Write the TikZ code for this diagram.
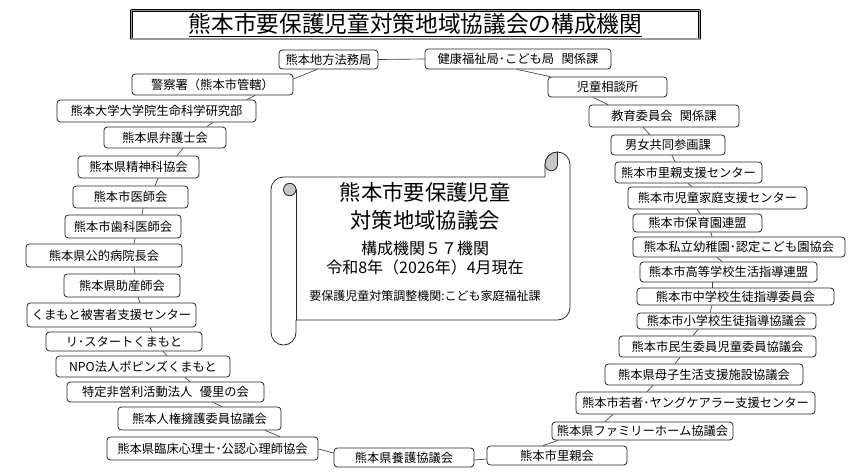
\documentclass[tikz,border=0pt]{standalone}
\usepackage{fontspec}
\setmainfont{Noto Sans CJK JP}
\newcommand\orgfont{\fontsize{9.2pt}{11pt}\selectfont}

\begin{document}
\begin{tikzpicture}[x=0.75pt, y=-0.75pt, line cap=round, line join=round]
\tikzset{
  org/.style={draw=black!85, line width=0.6pt, rounded corners=2.5pt, fill=white, inner sep=0pt, minimum height=21*0.75pt, font=\orgfont},
  boxw/.style={minimum width=#1*0.75pt},
  boxh/.style={minimum height=#1*0.75pt},
  link/.style={draw=black!75, line width=0.5pt},
  curl/.style={fill=black!22, draw=black!85, line width=0.6pt}
}
\useasboundingbox (0,0) rectangle (848,472);

\node[draw=black, double=black!40, double distance=1.1pt, line width=0.55pt, minimum width=568*0.75pt, minimum height=28.5*0.75pt, inner sep=0pt, font=\fontsize{17pt}{20pt}\selectfont] (title) at (415.5,24.75) {\underline{熊本市要保護児童対策地域協議会の構成機関}};

% scroll
\draw[fill=white, line width=0.6pt, draw=black!85] (283.5,177) -- (545,177) -- (545,164.5) arc[start angle=180, end angle=360, radius=12.5] -- (570,307.5) arc[start angle=0, end angle=90, radius=12.5] -- (296,320) -- (296,332.5) arc[start angle=0, end angle=180, radius=12.5] -- (271,189.5) arc[start angle=180, end angle=270, radius=12.5] -- cycle;
\draw[line width=0.6pt, draw=black!85] (296,189.5) -- (296,320);
\draw[curl] (289.75,189.5) circle[radius=6.25];
\draw[curl] (545,164.5) arc[start angle=180, end angle=270, radius=12.5] -- (557.5,164.5) arc[start angle=0, end angle=180, radius=6.25] -- cycle;

\node[font=\fontsize{16pt}{21pt}\selectfont, align=center] (scrollhead) at (425,206) {熊本市要保護児童\\対策地域協議会};
\node[font=\fontsize{12pt}{14.25pt}\selectfont, align=center] (scrollcount) at (425,258.5) {構成機関５７機関\\令和8年（2026年）4月現在};
\node[font=\fontsize{9pt}{11pt}\selectfont] (scrollnote) at (425,296) {要保護児童対策調整機関:こども家庭福祉課};

% left side
\node[org, boxw=99, boxh=19] (houmu) at (328.5,59.5) {熊本地方法務局};
\node[org, boxw=161] (keisatsu) at (212.5,84.5) {警察署（熊本市管轄）};
\node[org, boxw=199, boxh=22] (kumadai) at (156.5,111) {熊本大学大学院生命科学研究部};
\node[org, boxw=122] (bengoshi) at (165,137.5) {熊本県弁護士会};
\node[org, boxw=121, boxh=22] (seishin) at (138.5,167) {熊本県精神科協会};
\node[org, boxw=115, boxh=22] (ishi) at (130.5,197) {熊本市医師会};
\node[org, boxw=116, boxh=23] (shika) at (123,226.5) {熊本市歯科医師会};
\node[org, boxw=156, boxh=23] (byoin) at (104,255.5) {熊本県公的病院長会};
\node[org, boxw=116, boxh=23] (josan) at (122,285.5) {熊本県助産師会};
\node[org, boxw=169, boxh=24] (higai) at (111.5,315) {くまもと被害者支援センター};
\node[org, boxw=156, boxh=19] (restart) at (124,341.5) {リ･スタートくまもと};
\node[org, boxw=174] (npo) at (143,366.5) {NPO法人ポピンズくまもと};
\node[org, boxw=197, boxh=20] (yuri) at (165.5,392) {特定非営利活動法人\hspace{0.6em}優里の会};
\node[org, boxw=163, boxh=23] (jinken) at (199.5,418.5) {熊本人権擁護委員協議会};
\node[org, boxw=211, boxh=23] (rinsho) at (212.5,448.5) {熊本県臨床心理士･公認心理師協会};
\node[org, boxw=140, boxh=19] (yogo) at (404,457.5) {熊本県養護協議会};

% right side
\node[org, boxw=186, boxh=20] (kenko) at (518,59) {健康福祉局･こども局\hspace{0.6em}関係課};
\node[org, boxw=119, boxh=20] (jiso) at (607.5,87) {児童相談所};
\node[org, boxw=150, boxh=22] (kyoiku) at (664,116) {教育委員会\hspace{0.6em}関係課};
\node[org, boxw=114, boxh=20] (danjo) at (668,145) {男女共同参画課};
\node[org, boxw=147] (satooyashien) at (688.5,172.5) {熊本市里親支援センター};
\node[org, boxw=179, boxh=22] (jidokatei) at (717.5,198) {熊本市児童家庭支援センター};
\node[org, boxw=129, boxh=18] (hoiku) at (697.5,223) {熊本市保育園連盟};
\node[org, boxw=212, boxh=20] (shiritsu) at (739,247) {熊本私立幼稚園･認定こども園協会};
\node[org, boxw=177, boxh=20] (koto) at (728.5,272) {熊本市高等学校生活指導連盟};
\node[org, boxw=197, boxh=17] (chugaku) at (735.5,296.5) {熊本市中学校生徒指導委員会};
\node[org, boxw=179, boxh=16] (shogaku) at (726.5,321) {熊本市小学校生徒指導協議会};
\node[org, boxw=197] (minsei) at (717.5,346.5) {熊本市民生委員児童委員協議会};
\node[org, boxw=198] (boshi) at (704,374.5) {熊本県母子生活支援施設協議会};
\node[org, boxw=239, boxh=22] (wakamono) at (695.5,403) {熊本市若者･ヤングケアラー支援センター};
\node[org, boxw=181, boxh=18] (family) at (642.5,431) {熊本県ファミリーホーム協議会};
\node[org, boxw=140, boxh=19] (satooya) at (557,455.5) {熊本市里親会};

\draw[link] (houmu.east) -- (kenko.west);
\draw[link] (houmu.south -| 317,0) -- (keisatsu.east |- 0,79);
\draw[link] (keisatsu.south -| 255,0) -- (kumadai.north -| 247,0);
\draw[link] (kumadai.south -| 213,0) -- (bengoshi.north -| 207,0);
\draw[link] (bengoshi.south -| 183,0) -- (seishin.north -| 177,0);
\draw[link] (seishin.south -| 158,0) -- (ishi.north -| 155,0);
\draw[link] (ishi.south -| 143,0) -- (shika.north -| 142,0);
\draw[link] (shika.south -| 135,0) -- (byoin.north -| 134,0);
\draw[link] (byoin.south -| 134,0) -- (josan.north -| 135,0);
\draw[link] (josan.south -| 138,0) -- (higai.north -| 140,0);
\draw[link] (higai.south -| 150,0) -- (restart.north -| 152,0);
\draw[link] (restart.south -| 163,0) -- (npo.north -| 167,0);
\draw[link] (npo.south -| 185,0) -- (yuri.north -| 190,0);
\draw[link] (yuri.south -| 213,0) -- (jinken.north -| 222,0);
\draw[link] (jinken.south -| 265,0) -- (rinsho.north -| 280,0);
\draw[link] (rinsho.east |- 0,449) -- (yogo.west |- 0,453);
\draw[link] (yogo.east |- 0,460) -- (satooya.west |- 0,459);
\draw[link] (satooya.north -| 543,0) -- (family.south -| 558,0);
\draw[link] (family.north -| 605,0) -- (wakamono.south -| 613,0);
\draw[link] (wakamono.north -| 647,0) -- (boshi.south -| 653,0);
\draw[link] (boshi.north -| 675,0) -- (minsei.south -| 680,0);
\draw[link] (minsei.north -| 693,0) -- (shogaku.south -| 698,0);
\draw[link] (shogaku.north -| 710,0) -- (chugaku.south -| 712,0);
\draw[link] (chugaku.north -| 712,0) -- (koto.south -| 712,0);
\draw[link] (koto.north -| 722,0) -- (shiritsu.south -| 717,0);
\draw[link] (shiritsu.north -| 712,0) -- (hoiku.south -| 711,0);
\draw[link] (hoiku.north -| 700,0) -- (jidokatei.south -| 697,0);
\draw[link] (jidokatei.north -| 692,0) -- (satooyashien.south -| 688,0);
\draw[link] (satooyashien.north -| 675,0) -- (danjo.south -| 672,0);
\draw[link] (danjo.north -| 650,0) -- (kyoiku.south -| 643,0);
\draw[link] (kyoiku.north -| 608,0) -- (jiso.south -| 593,0);
\draw[link] (jiso.north -| 550,0) -- (kenko.south -| 517,0);
\end{tikzpicture}
\end{document}
